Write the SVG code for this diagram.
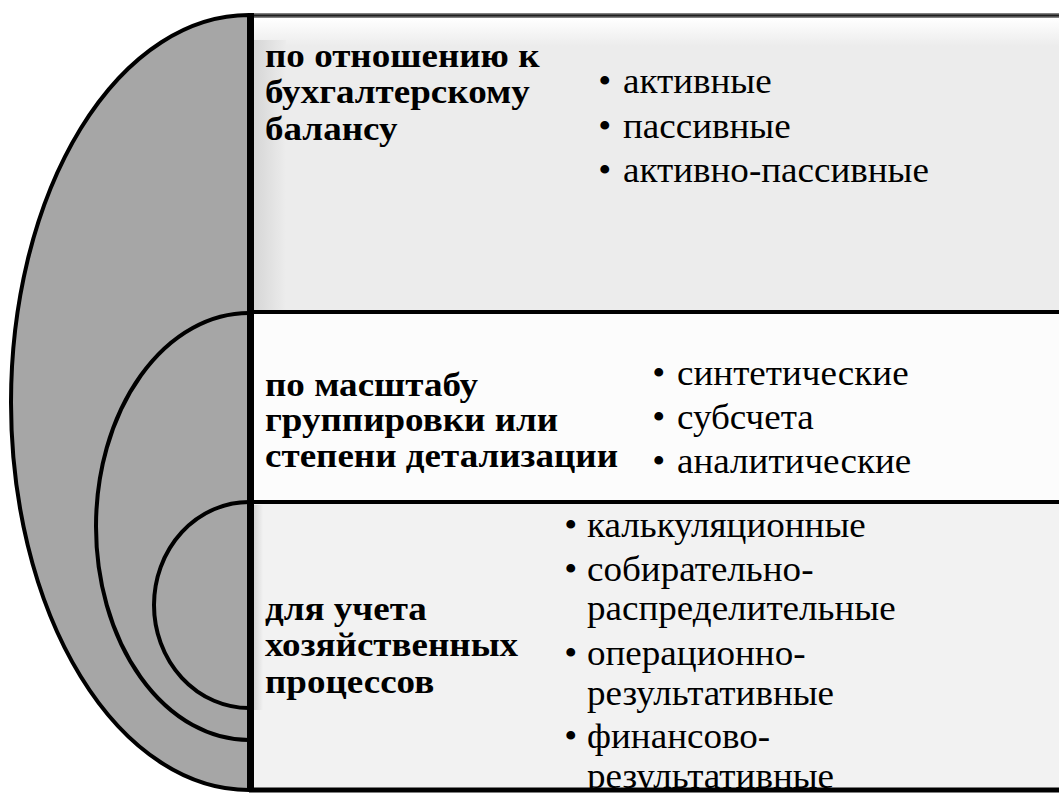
<svg xmlns="http://www.w3.org/2000/svg" width="1059" height="795" viewBox="0 0 1059 795">
<style>
.hdr{font-weight:bold;font-size:34px;fill:#000}
.itm{font-size:36px;fill:#000}
.arc{fill:none;stroke:#000;stroke-width:4}
.hl{stroke:#000;stroke-width:4}
</style>
<defs>
<linearGradient id="topband" x1="0" y1="0" x2="0" y2="1">
<stop offset="0" stop-color="#ffffff"/>
<stop offset="1" stop-color="#ececec"/>
</linearGradient>
<linearGradient id="leftband" x1="0" y1="0" x2="1" y2="0">
<stop offset="0" stop-color="#d6d6d6"/>
<stop offset="1" stop-color="#ececec"/>
</linearGradient>
<linearGradient id="topborder" x1="0" y1="0" x2="0" y2="1">
<stop offset="0" stop-color="#9a9a9a"/>
<stop offset="0.5" stop-color="#1e1e1e"/>
<stop offset="1" stop-color="#9a9a9a"/>
</linearGradient>
<linearGradient id="leftshade3" x1="0" y1="0" x2="1" y2="0">
<stop offset="0" stop-color="#d4d4d4"/>
<stop offset="1" stop-color="#f2f2f2"/>
</linearGradient>
<clipPath id="clip3"><rect x="251" y="502" width="808" height="288"/></clipPath>
</defs>

<g id="arcs">
<path d="M249,15 A238,387.5 0 0 0 249,790 Z" fill="#a6a6a6" stroke="#000" stroke-width="4"/>
<path class="arc" d="M249,313 A153,213.5 0 0 0 249,740"/>
<path class="arc" d="M249,502 A95,103 0 0 0 249,708"/>
</g>

<g font-family="Liberation Serif, serif">
<g id="box1">
<rect x="251" y="15" width="820" height="297" fill="#ececec"/>
<rect x="254" y="18" width="817" height="28" fill="url(#topband)"/>
<rect x="254" y="40" width="32" height="270" fill="url(#leftband)"/>
<text class="hdr" transform="translate(265,0) scale(1.09,1)"><tspan x="0" y="67">по отношению к</tspan><tspan x="0" y="103.5">бухгалтерскому</tspan><tspan x="0" y="140">балансу</tspan></text>
<g transform="translate(623,0) scale(1.03,1)">
<text class="itm"><tspan x="-24" y="93">•</tspan><tspan x="0" y="93">активные</tspan></text>
<text class="itm"><tspan x="-24" y="138">•</tspan><tspan x="0" y="138">пассивные</tspan></text>
<text class="itm"><tspan x="-24" y="182">•</tspan><tspan x="0" y="182">активно-пассивные</tspan></text>
</g>
</g>

<g id="box2">
<rect x="251" y="312" width="820" height="190" fill="#fcfcfc"/>
<text class="hdr" transform="translate(265,0) scale(1.09,1)"><tspan x="0" y="396">по масштабу</tspan><tspan x="0" y="431.5">группировки или</tspan><tspan x="0" y="467">степени детализации</tspan></text>
<g transform="translate(677,0) scale(1.03,1)">
<text class="itm"><tspan x="-24" y="385">•</tspan><tspan x="0" y="385">синтетические</tspan></text>
<text class="itm"><tspan x="-24" y="429">•</tspan><tspan x="0" y="429">субсчета</tspan></text>
<text class="itm"><tspan x="-24" y="473">•</tspan><tspan x="0" y="473">аналитические</tspan></text>
</g>
</g>

<g id="box3">
<rect x="251" y="502" width="820" height="288" fill="#f2f2f2"/>
<rect x="254" y="505" width="9" height="205" fill="url(#leftshade3)"/>
<text class="hdr" transform="translate(265,0) scale(1.09,1)"><tspan x="0" y="620">для учета</tspan><tspan x="0" y="656">хозяйственных</tspan><tspan x="0" y="693">процессов</tspan></text>
<g clip-path="url(#clip3)">
<g transform="translate(587,0) scale(1.03,1)">
<text class="itm"><tspan x="-22" y="537">•</tspan><tspan x="0" y="537">калькуляционные</tspan></text>
<text class="itm"><tspan x="-22" y="581">•</tspan><tspan x="0" y="581">собирательно-</tspan><tspan x="0" y="620">распределительные</tspan></text>
<text class="itm"><tspan x="-22" y="665">•</tspan><tspan x="0" y="665">операционно-</tspan><tspan x="0" y="705">результативные</tspan></text>
<text class="itm"><tspan x="-22" y="748">•</tspan><tspan x="0" y="748">финансово-</tspan><tspan x="0" y="788">результативные</tspan></text>
</g>
</g>
</g>
</g>

<g id="borders">
<rect x="249" y="13" width="820" height="5" fill="url(#topborder)"/>
<line class="hl" x1="249" y1="312" x2="1059" y2="312"/>
<line class="hl" x1="249" y1="502" x2="1059" y2="502"/>
<line x1="249" y1="790" x2="1059" y2="790" stroke="#000" stroke-width="5"/>
<line x1="251" y1="13" x2="251" y2="792" stroke="#000" stroke-width="6"/>
</g>
</svg>
